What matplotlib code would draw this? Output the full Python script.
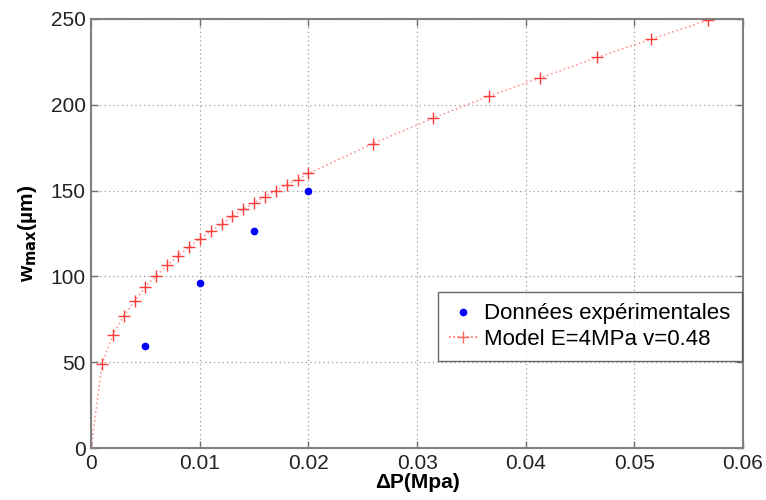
import matplotlib
matplotlib.use("Agg")
import matplotlib.pyplot as plt

plt.rcParams["font.family"] = ["Liberation Sans", "DejaVu Sans"]

# Model curve (E=4MPa, v=0.48)
model_p = [0.0, 0.001, 0.002, 0.003, 0.004, 0.005, 0.006, 0.007, 0.008, 0.009,
           0.010, 0.011, 0.012, 0.013, 0.014, 0.015, 0.016, 0.017, 0.018,
           0.019, 0.020, 0.0259, 0.0315, 0.0366, 0.0413, 0.0466, 0.0515, 0.0568]
model_w = [0.0, 49.0, 65.9, 76.9, 85.7, 94.0, 100.4, 106.5, 111.9, 117.1,
           122.0, 126.3, 130.5, 135.0, 139.1, 143.0, 146.5, 150.0, 153.5,
           156.4, 160.0, 177.3, 192.3, 205.0, 215.6, 227.7, 238.2, 249.4]

# Experimental data
exp_p = [0.005, 0.010, 0.015, 0.020]
exp_w = [59.4, 96.2, 126.3, 150.0]

fig = plt.figure(figsize=(7.66, 5.00), dpi=100)
ax = fig.add_axes([0.119, 0.104, 0.851, 0.858])

ax.plot(exp_p, exp_w, linestyle="none", marker="o", color="#0000ff",
        markersize=4.5, label="Données expérimentales", zorder=3)
ax.plot(model_p, model_w, linestyle=":", color="#ff0000", alpha=0.4,
        linewidth=1.2, zorder=2)
ax.plot(model_p, model_w, linestyle="none", marker="+", color="#ff3b3b",
        markersize=8.5, markeredgewidth=1.0, zorder=2)
# legend handle combining line and marker
ax.plot([], [], linestyle=":", marker="+", color="#ff6666", markersize=8.5,
        markeredgewidth=1.0, linewidth=1.2, label="Model E=4MPa v=0.48")

ax.set_xlim(0, 0.06)
ax.set_ylim(0, 250)
ax.set_xticks([0, 0.01, 0.02, 0.03, 0.04, 0.05, 0.06])
ax.set_xticklabels(["0", "0.01", "0.02", "0.03", "0.04", "0.05", "0.06"])
ax.set_yticks([0, 50, 100, 150, 200, 250])

ax.grid(True, linestyle=(0, (1, 2.5)), color="#9a9a9a", linewidth=0.9)
ax.tick_params(direction="in", length=5, width=1, color="#707070",
               labelsize=15, labelcolor="#222222", top=True, right=True, pad=4)
for s in ax.spines.values():
    s.set_color("#808080")
    s.set_linewidth(1.5)

ax.set_xlabel("ΔP(Mpa)", fontsize=15, fontweight="bold", labelpad=0)
ax.set_ylabel(r"w$_{\mathbf{max}}$(µm)", fontsize=15, fontweight="bold",
              labelpad=8)

leg = ax.legend(loc="lower right", bbox_to_anchor=(0.998, 0.203),
                borderaxespad=0, fontsize=16, frameon=True, fancybox=False,
                handlelength=1.3, handletextpad=0.3, borderpad=0.5,
                labelspacing=0.2)
leg.get_frame().set_edgecolor("#444444")
leg.get_frame().set_linewidth(1.0)

fig.savefig("out.png", dpi=100)
